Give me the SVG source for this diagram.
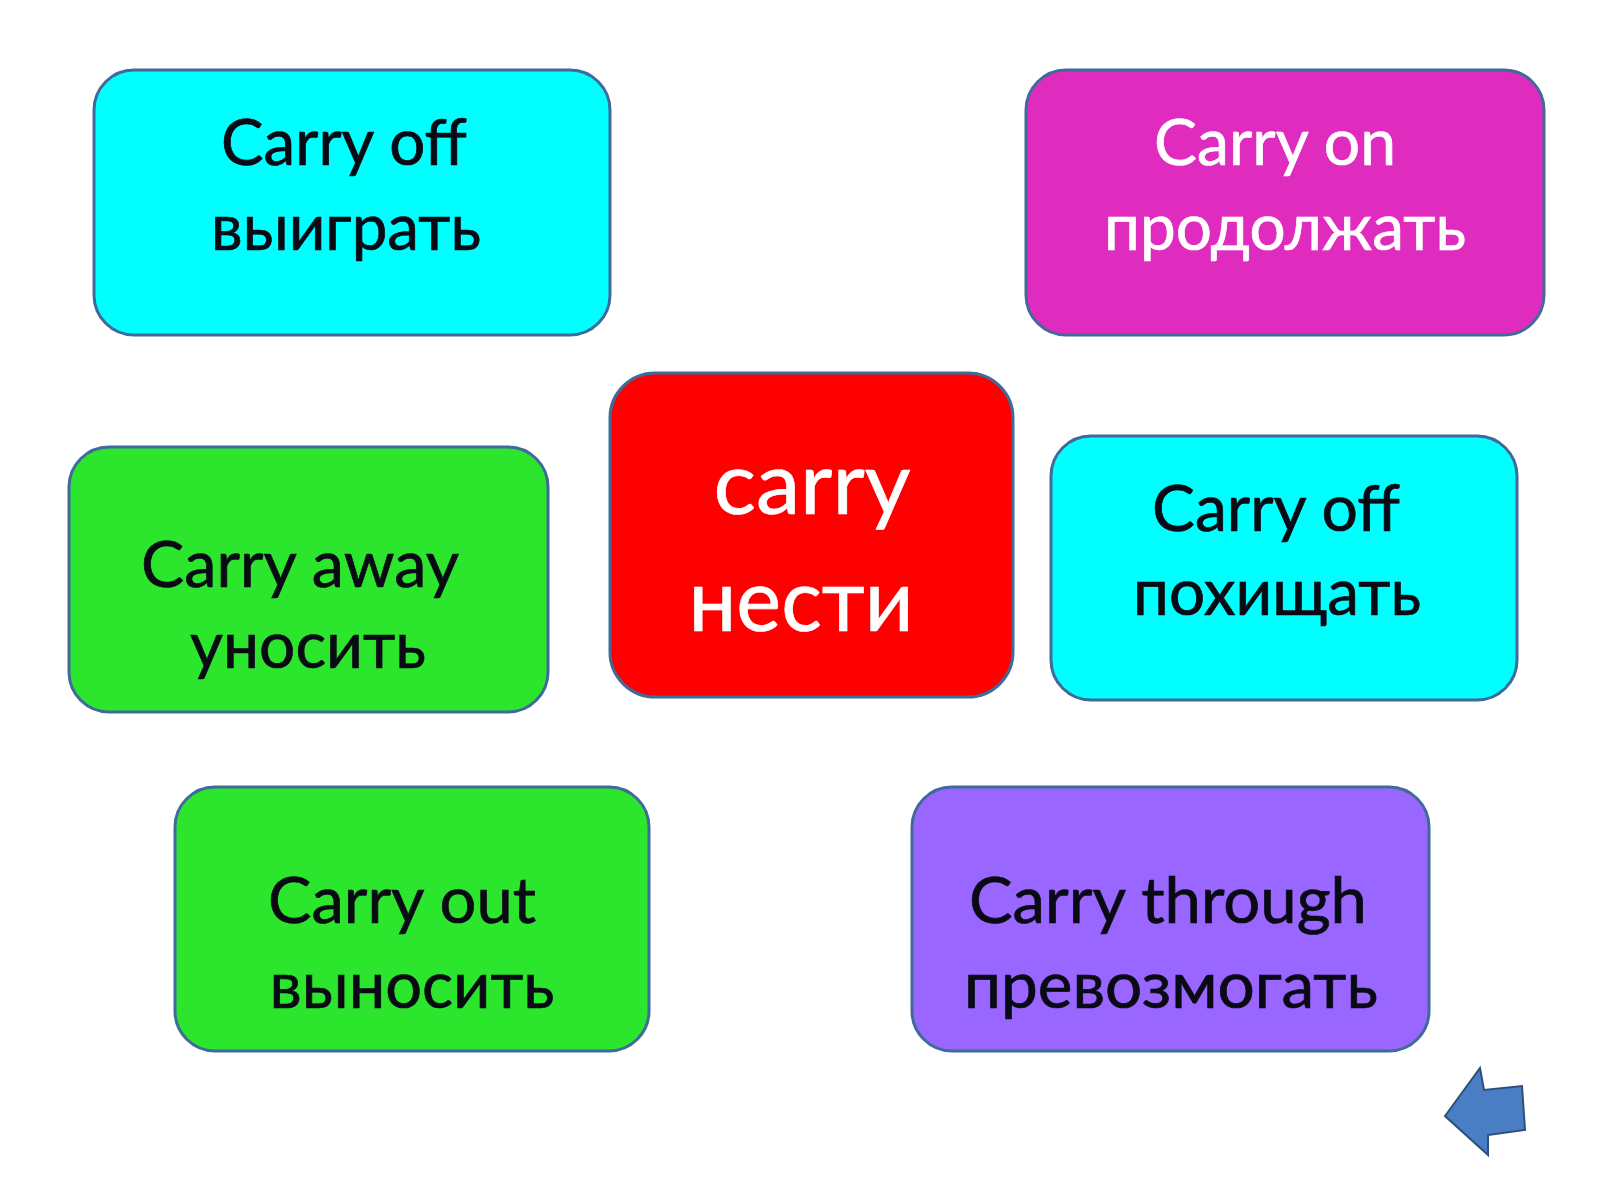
<svg xmlns="http://www.w3.org/2000/svg" width="1600" height="1200" viewBox="0 0 1600 1200">
<style>
.box{stroke:#3F6A9A;stroke-width:3}
.t{font-family:Lato,"Open Sans","Liberation Sans",sans-serif;font-size:64px;text-anchor:middle;fill:#0A0A14;stroke:#0A0A14;stroke-width:0.7}
.w{fill:#FFFFFF;stroke:#FFFFFF}
.big{font-size:88px}
</style>
<rect width="1600" height="1200" fill="#FFFFFF"/>
<g id="connectors"></g>
<g id="node-carry-off-1">
<rect class="box" x="94" y="70" width="516" height="265" rx="40" fill="#00FFFF"/>
<text class="t" x="344" y="165" textLength="246" lengthAdjust="spacingAndGlyphs">Carry off</text>
<text class="t" x="346" y="250" textLength="270" lengthAdjust="spacingAndGlyphs">выиграть</text>
</g>
<g id="node-carry-on">
<rect class="box" x="1026" y="70" width="518" height="265" rx="40" fill="#E02CBE"/>
<text class="t w" x="1275" y="165" textLength="242" lengthAdjust="spacingAndGlyphs">Carry on</text>
<text class="t w" x="1285" y="250" textLength="362" lengthAdjust="spacingAndGlyphs">продолжать</text>
</g>
<g id="node-carry">
<rect class="box" x="610" y="373" width="403" height="324" rx="45" fill="#FF0000"/>
<text class="t w big" x="812" y="514" textLength="197" lengthAdjust="spacingAndGlyphs">carry</text>
<text class="t w big" x="801" y="631" textLength="225" lengthAdjust="spacingAndGlyphs">нести</text>
</g>
<g id="node-carry-away">
<rect class="box" x="69" y="447" width="479" height="265" rx="40" fill="#2CE62E"/>
<text class="t" x="300" y="587" textLength="318" lengthAdjust="spacingAndGlyphs">Carry away</text>
<text class="t" x="308" y="668" textLength="236" lengthAdjust="spacingAndGlyphs">уносить</text>
</g>
<g id="node-carry-off-2">
<rect class="box" x="1051" y="436" width="466" height="264" rx="40" fill="#00FFFF"/>
<text class="t" x="1276" y="531" textLength="248" lengthAdjust="spacingAndGlyphs">Carry off</text>
<text class="t" x="1277" y="615" textLength="288" lengthAdjust="spacingAndGlyphs">похищать</text>
</g>
<g id="node-carry-out">
<rect class="box" x="175" y="787" width="474" height="264" rx="40" fill="#2CE62E"/>
<text class="t" x="402" y="923" textLength="268" lengthAdjust="spacingAndGlyphs">Carry out</text>
<text class="t" x="412" y="1008" textLength="285" lengthAdjust="spacingAndGlyphs">выносить</text>
</g>
<g id="node-carry-through">
<rect class="box" x="912" y="787" width="517" height="264" rx="40" fill="#9966FF"/>
<text class="t" x="1168" y="923" textLength="398" lengthAdjust="spacingAndGlyphs">Carry through</text>
<text class="t" x="1171" y="1008" textLength="414" lengthAdjust="spacingAndGlyphs">превозмогать</text>
</g>
<g id="back-arrow">
<polygon points="1445,1116 1480,1068 1484,1090 1522,1086 1525,1130 1488,1135 1488,1155" fill="#4A7EC4" stroke="#2F4F7A" stroke-width="2" stroke-linejoin="miter"/>
</g>
</svg>
